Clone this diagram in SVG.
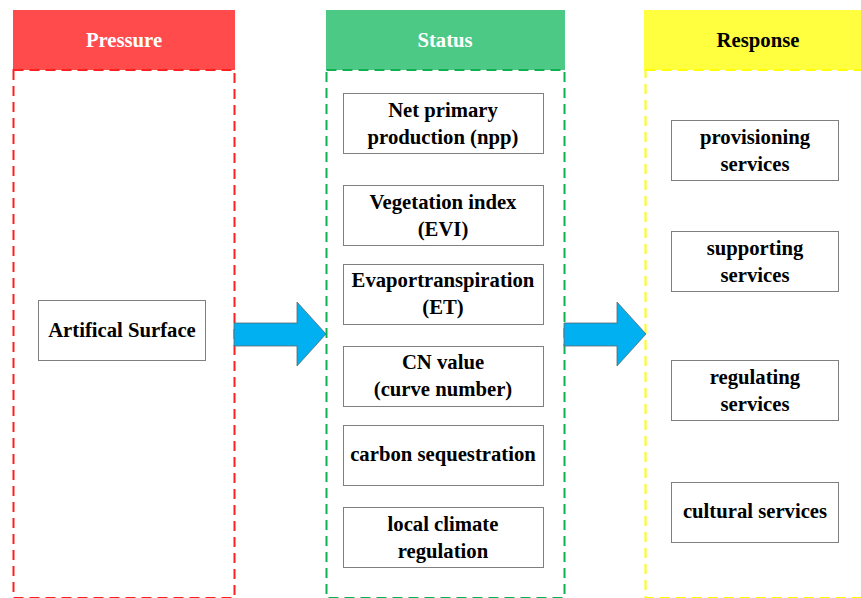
<svg xmlns="http://www.w3.org/2000/svg" width="861" height="598" viewBox="0 0 861 598">
<style>
text{font-family:"Liberation Serif","Times New Roman",serif;font-weight:bold;font-size:20.7px;text-anchor:middle}
.box{fill:#fff;stroke:#7f7f7f;stroke-width:1}
.arrow{fill:#00B0F0;stroke:#5a6a70;stroke-width:0.8}
</style>
<rect width="861" height="598" fill="#fff"/>
<g id="pressure">
<rect x="13" y="10" width="222" height="60" fill="#FF4B4B"/>
<rect x="13.5" y="70" width="221" height="528" fill="none" stroke="#FF2020" stroke-width="2" stroke-dasharray="10,6"/>
<text x="124" y="47" fill="#fff">Pressure</text>
</g>
<g id="status">
<rect x="326" y="10" width="239" height="60" fill="#4CC985"/>
<rect x="326.5" y="70" width="238" height="528" fill="none" stroke="#10B050" stroke-width="2" stroke-dasharray="10,6"/>
<text x="445" y="47" fill="#fff">Status</text>
</g>
<g id="response">
<rect x="644" y="10" width="220" height="60" fill="#FFFF40"/>
<rect x="645.5" y="70" width="220" height="528" fill="none" stroke="#FFFF00" stroke-width="2" stroke-dasharray="10,6"/>
<text x="758" y="47" fill="#000">Response</text>
</g>
<g id="artifical-surface">
<rect class="box" x="38.5" y="300.5" width="167" height="60"/>
<text x="122" y="337">Artifical Surface</text>
</g>
<g id="npp">
<rect class="box" x="343.5" y="93.5" width="200" height="60"/>
<text x="443" y="117">Net primary</text>
<text x="443" y="144">production (npp)</text>
</g>
<g id="evi">
<rect class="box" x="343.5" y="185.5" width="200" height="60"/>
<text x="443" y="209">Vegetation index</text>
<text x="443" y="236">(EVI)</text>
</g>
<g id="et">
<rect class="box" x="343.5" y="264.5" width="200" height="60"/>
<text x="443" y="287">Evaportranspiration</text>
<text x="443" y="314">(ET)</text>
</g>
<g id="cn">
<rect class="box" x="343.5" y="346.5" width="200" height="60"/>
<text x="443" y="369">CN value</text>
<text x="443" y="396">(curve number)</text>
</g>
<g id="carbon">
<rect class="box" x="343.5" y="425.5" width="200" height="60"/>
<text x="443" y="461">carbon sequestration</text>
</g>
<g id="climate">
<rect class="box" x="343.5" y="507.5" width="200" height="60"/>
<text x="443" y="531">local climate</text>
<text x="443" y="558">regulation</text>
</g>
<g id="provisioning">
<rect class="box" x="671.5" y="120.5" width="167" height="60"/>
<text x="755" y="144">provisioning</text>
<text x="755" y="171">services</text>
</g>
<g id="supporting">
<rect class="box" x="671.5" y="231.5" width="167" height="60"/>
<text x="755" y="255">supporting</text>
<text x="755" y="282">services</text>
</g>
<g id="regulating">
<rect class="box" x="671.5" y="360.5" width="167" height="60"/>
<text x="755" y="384">regulating</text>
<text x="755" y="411">services</text>
</g>
<g id="cultural">
<rect class="box" x="671.5" y="482.5" width="167" height="60"/>
<text x="755" y="518">cultural services</text>
</g>
<g id="connectors">
<polygon class="arrow" points="234,323 297,323 297,302 326,334 297,366 297,346 234,346"/>
<polygon class="arrow" points="564,323 617,323 617,302 646,334 617,366 617,346 564,346"/>
</g>
</svg>
